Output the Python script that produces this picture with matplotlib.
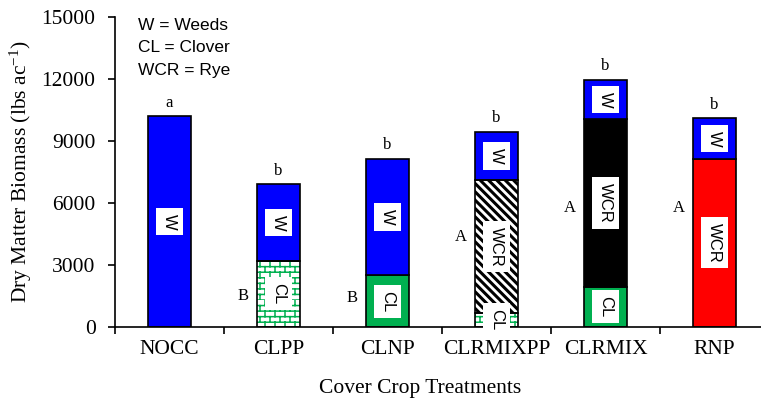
import warnings
import numpy as np
import matplotlib
matplotlib.use('Agg')
import matplotlib.pyplot as plt
import matplotlib.hatch as mhatch
from matplotlib.path import Path

warnings.filterwarnings('ignore')

# ---------------- data ----------------
treatments = ['NOCC', 'CLPP', 'CLNP', 'CLRMIXPP', 'CLRMIX', 'RNP']
clover = [0, 3200, 2500, 700, 1950, 0]
rye = [0, 0, 0, 6400, 8100, 8150]
weeds = [10200, 3700, 5650, 2350, 1900, 1950]
lower_letters = ['a', 'b', 'b', 'b', 'b', 'b']
upper_letters = ['', 'B', 'B', 'A', 'A', 'A']
upper_letter_y = [0, 1500, 1400, 4350, 5750, 5750]
yticks = [0, 3000, 6000, 9000, 12000, 15000]
legend_lines = ['W = Weeds', 'CL = Clover', 'WCR = Rye']

# segment styles
clover_style = [None, 'brick', 'green', 'brick', 'green', None]
rye_style = [None, None, None, 'stripe', 'black', 'red']

SERIF = 'Liberation Serif'
SANS = 'Liberation Sans'
plt.rcParams['font.family'] = [SERIF, 'DejaVu Serif']
plt.rcParams['mathtext.default'] = 'regular'
plt.rcParams['hatch.linewidth'] = 1.1


# custom brick hatch pattern
class BrickHatch(mhatch.HatchPatternBase):
    rows = 18
    cols = 10

    def __init__(self, hatch, density):
        self.on = hatch.count('B') > 0
        self.num_vertices = (self.rows * 2 + self.rows * self.cols * 2) if self.on else 0

    def set_vertices_and_codes(self, vertices, codes):
        R, C = self.rows, self.cols
        v = []
        for r in range(R):
            y = r / R
            v += [(0.0, y), (1.0, y)]
            off = 0.5 / C if r % 2 else 0.0
            for c in range(C):
                xx = c / C + off
                v += [(xx, y), (xx, y + 1.0 / R)]
        vertices[:] = np.array(v)
        codes[0::2] = Path.MOVETO
        codes[1::2] = Path.LINETO


mhatch._hatch_types.append(BrickHatch)

GREEN = '#00B050'
BLUE = '#0000FF'
RED = '#FF0000'
BLACK = '#000000'
EDGE_LW = 1.2
BRICK_LW = 1.1
STRIPE_LW = 2.2

fig = plt.figure(figsize=(7.61, 4.0), dpi=100)
ax = fig.add_axes([115 / 761, 73 / 400, 654 / 761, 310 / 400])

x = np.arange(len(treatments))
width = 0.4


def draw_segment(i, bottom, h, style):
    if h <= 0 or style is None:
        return
    if style in ('brick', 'stripe'):
        hatch = 'B' if style == 'brick' else '\\' * 4
        hcol = GREEN if style == 'brick' else BLACK
        hlw = BRICK_LW if style == 'brick' else STRIPE_LW
        with plt.rc_context({'hatch.linewidth': hlw}):
            bars = ax.bar(x[i], h, width, bottom=bottom, color='white',
                          edgecolor=hcol, linewidth=0, hatch=hatch, zorder=2)
        for p in bars:
            if hasattr(p, 'set_hatch_linewidth'):
                p.set_hatch_linewidth(hlw)
        ax.bar(x[i], h, width, bottom=bottom, fill=False,
               edgecolor=BLACK, linewidth=EDGE_LW, zorder=2.1)
    else:
        col = {'green': GREEN, 'black': BLACK, 'red': RED, 'blue': BLUE}[style]
        ax.bar(x[i], h, width, bottom=bottom, color=col,
               edgecolor=BLACK, linewidth=EDGE_LW, zorder=2)


def seg_label(i, bottom, h, text):
    if h <= 0:
        return
    ax.text(x[i], bottom + h / 2, text, rotation=270, ha='center', va='center',
            family=SANS, fontsize=12, zorder=5, clip_on=False,
            bbox=dict(boxstyle='square,pad=0.35', facecolor='white', edgecolor='none'))


for i in range(len(treatments)):
    b = 0
    draw_segment(i, b, clover[i], clover_style[i])
    seg_label(i, b, clover[i], 'CL')
    b += clover[i]
    draw_segment(i, b, rye[i], rye_style[i])
    seg_label(i, b, rye[i], 'WCR')
    b += rye[i]
    draw_segment(i, b, weeds[i], 'blue')
    seg_label(i, b, weeds[i], 'W')
    b += weeds[i]
    ax.annotate(lower_letters[i], (x[i], b), xytext=(0, 4), textcoords='offset points',
                ha='center', va='bottom', fontsize=12)
    if upper_letters[i]:
        ax.annotate(upper_letters[i], (x[i] - width / 2, upper_letter_y[i]),
                    xytext=(-10, 0), textcoords='offset points',
                    ha='center', va='center', fontsize=12)

ax.set_xlim(-0.5, len(treatments) - 0.5)
ax.set_ylim(0, 15000)
ax.set_yticks(yticks)
ax.set_yticklabels([str(v) for v in yticks])
ax.set_xticks(x)
ax.set_xticklabels(treatments)
ax.set_xticks(np.arange(-0.5, len(treatments), 1.0), minor=True)

for s in ('top', 'right'):
    ax.spines[s].set_visible(False)
for s in ('left', 'bottom'):
    ax.spines[s].set_linewidth(1.2)

ax.tick_params(axis='x', which='major', length=0, pad=9.5, labelsize=15.5)
ax.tick_params(axis='x', which='minor', length=5, width=1.2, direction='out')
ax.tick_params(axis='y', which='major', length=5, width=1.2, direction='out',
               pad=9, labelsize=15.5)

ax.set_xlabel('Cover Crop Treatments', fontsize=15.5, va='center')
ax.xaxis.set_label_coords((420 - 115) / 654, -(388 - 327) / 310)
ax.set_ylabel('Dry Matter Biomass (lbs ac$^{-1}$)', fontsize=15.5, va='center')
ax.yaxis.set_label_coords((21 - 115) / 654, 0.5)

for k, line in enumerate(legend_lines):
    fig.text(138 / 761, 1 - (26 + 22 * k) / 400, line, family=SANS,
             fontsize=12.5, ha='left', va='center')

fig.savefig('out.png', dpi=100)
